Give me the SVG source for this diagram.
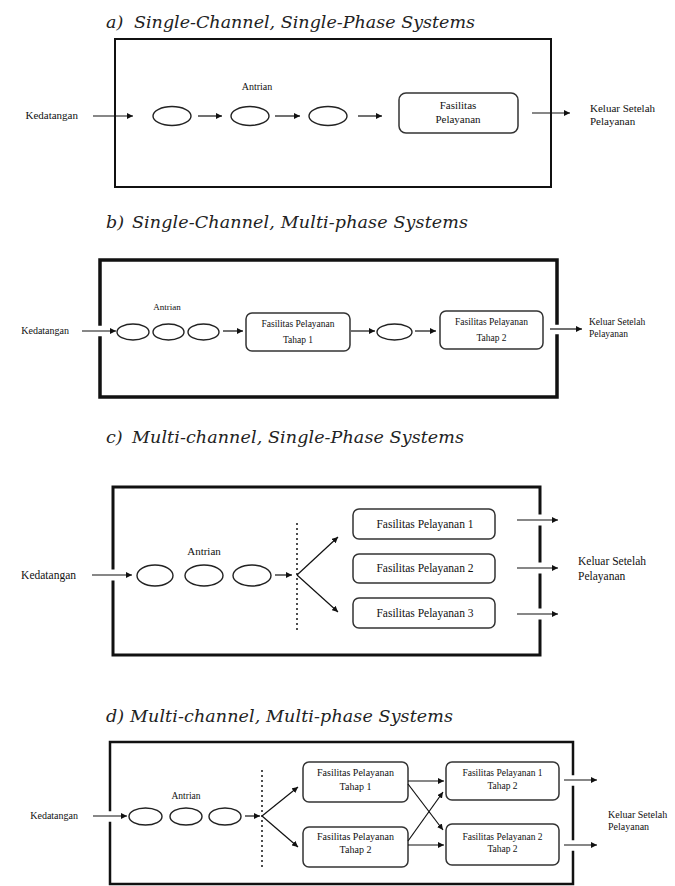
<svg xmlns="http://www.w3.org/2000/svg" width="675" height="886" viewBox="0 0 675 886">
  <style>
    .bg { fill: #ffffff; }
    .title { font-family: "DejaVu Serif", "Liberation Serif", serif; font-style: italic; font-size: 17.5px; fill: #222; }
    .lbl { font-family: "Liberation Serif", "Times New Roman", serif; fill: #111; }
    .frame { fill: none; stroke: #111; stroke-linecap: square; }
    .q { fill: #fff; stroke: #222; stroke-width: 1.4; }
    .fac { fill: #fff; stroke: #333; stroke-width: 1.5; }
    .conn line, .conn path { stroke: #111; stroke-width: 1.2; fill: none; marker-end: url(#ah); }
    .dots { stroke: #222; stroke-width: 1.6; stroke-dasharray: 2 3; fill: none; }
  </style>
  <defs>
    <marker id="ah" viewBox="0 0 8 8" refX="8" refY="4" markerWidth="6" markerHeight="6" markerUnits="userSpaceOnUse" orient="auto">
      <path d="M0,0 L8,4 L0,8 z" fill="#111"/>
    </marker>
  </defs>
  <rect class="bg" width="675" height="886"/>

  <!-- ===== a) single channel, single phase ===== -->
  <g id="panel-a">
    <text class="title" x="106" y="28">a)</text>
    <text class="title" x="134" y="28" textLength="341">Single-Channel, Single-Phase Systems</text>
    <rect class="frame" x="115" y="39" width="436" height="148" stroke-width="2"/>
    <text class="lbl" x="78" y="119" font-size="11" text-anchor="end">Kedatangan</text>
    <text class="lbl" x="257" y="90" font-size="10" text-anchor="middle">Antrian</text>
    <g id="a-q1"><ellipse class="q" cx="172" cy="116" rx="19" ry="9.5"/></g>
    <g id="a-q2"><ellipse class="q" cx="250" cy="116" rx="19" ry="9.5"/></g>
    <g id="a-q3"><ellipse class="q" cx="328" cy="116" rx="19" ry="9.5"/></g>
    <g id="a-fac">
      <rect class="fac" x="399" y="93" width="119" height="40" rx="7"/>
      <text class="lbl" x="458" y="109" font-size="11" text-anchor="middle">Fasilitas</text>
      <text class="lbl" x="458" y="123" font-size="11" text-anchor="middle">Pelayanan</text>
    </g>
    <text class="lbl" x="590" y="112" font-size="11">Keluar Setelah</text>
    <text class="lbl" x="590" y="125" font-size="11">Pelayanan</text>
    <g class="conn" id="a-conn">
      <line x1="93" y1="116" x2="133" y2="116"/>
      <line x1="198" y1="116" x2="222" y2="116"/>
      <line x1="275" y1="116" x2="300" y2="116"/>
      <line x1="358" y1="116" x2="382" y2="116"/>
      <line x1="532" y1="113" x2="570" y2="113"/>
    </g>
  </g>

  <!-- ===== b) single channel, multi phase ===== -->
  <g id="panel-b">
    <text class="title" x="106" y="228">b)</text>
    <text class="title" x="132" y="228" textLength="336">Single-Channel, Multi-phase Systems</text>
    <path class="frame" stroke-width="3.5" d="M100,324 V260 H557 V323 M557,336 V397 H100 V338"/>
    <text class="lbl" x="69" y="334" font-size="10" text-anchor="end">Kedatangan</text>
    <text class="lbl" x="167" y="310" font-size="9" text-anchor="middle">Antrian</text>
    <g id="b-q1"><ellipse class="q" cx="133" cy="332" rx="16" ry="8"/></g>
    <g id="b-q2"><ellipse class="q" cx="168.5" cy="332" rx="15.5" ry="8"/></g>
    <g id="b-q3"><ellipse class="q" cx="203.5" cy="332" rx="15.5" ry="8"/></g>
    <g id="b-fac1">
      <rect class="fac" x="246" y="313" width="104" height="38" rx="6"/>
      <text class="lbl" x="298" y="327" font-size="9.5" text-anchor="middle">Fasilitas Pelayanan</text>
      <text class="lbl" x="298" y="343" font-size="9.5" text-anchor="middle">Tahap 1</text>
    </g>
    <g id="b-q4"><ellipse class="q" cx="394.5" cy="332" rx="17.5" ry="8"/></g>
    <g id="b-fac2">
      <rect class="fac" x="440" y="311" width="103" height="38" rx="6"/>
      <text class="lbl" x="491.5" y="325" font-size="9.5" text-anchor="middle">Fasilitas Pelayanan</text>
      <text class="lbl" x="491.5" y="341" font-size="9.5" text-anchor="middle">Tahap 2</text>
    </g>
    <text class="lbl" x="589" y="325" font-size="9.5">Keluar Setelah</text>
    <text class="lbl" x="589" y="337" font-size="9.5">Pelayanan</text>
    <g class="conn" id="b-conn">
      <line x1="82" y1="331" x2="116" y2="331"/>
      <line x1="223" y1="331" x2="243" y2="331"/>
      <line x1="351" y1="331" x2="375" y2="331"/>
      <line x1="415" y1="331" x2="436" y2="331"/>
      <line x1="550" y1="329" x2="582" y2="329"/>
    </g>
  </g>

  <!-- ===== c) multi channel, single phase ===== -->
  <g id="panel-c">
    <text class="title" x="106" y="443">c)</text>
    <text class="title" x="132" y="443" textLength="332">Multi-channel, Single-Phase Systems</text>
    <path class="frame" stroke-width="3" d="M113,568 V487 H540 V513 M540,527 V561 M540,575 V607 M540,621 V655 H113 V582"/>
    <text class="lbl" x="76" y="579" font-size="11.5" text-anchor="end">Kedatangan</text>
    <text class="lbl" x="204" y="555" font-size="11" text-anchor="middle">Antrian</text>
    <g id="c-q1"><ellipse class="q" cx="155" cy="575.5" rx="18" ry="10.5"/></g>
    <g id="c-q2"><ellipse class="q" cx="204" cy="575.5" rx="19" ry="10.5"/></g>
    <g id="c-q3"><ellipse class="q" cx="252" cy="575.5" rx="19" ry="10.5"/></g>
    <line class="dots" x1="297" y1="523" x2="297" y2="633"/>
    <g id="c-fac1">
      <rect class="fac" x="353" y="509" width="142" height="30" rx="6"/>
      <text class="lbl" x="425" y="528" font-size="11.5" text-anchor="middle">Fasilitas Pelayanan 1</text>
    </g>
    <g id="c-fac2">
      <rect class="fac" x="353" y="554" width="142" height="29" rx="6"/>
      <text class="lbl" x="425" y="572" font-size="11.5" text-anchor="middle">Fasilitas Pelayanan 2</text>
    </g>
    <g id="c-fac3">
      <rect class="fac" x="353" y="598" width="142" height="30" rx="6"/>
      <text class="lbl" x="425" y="617" font-size="11.5" text-anchor="middle">Fasilitas Pelayanan 3</text>
    </g>
    <text class="lbl" x="578" y="565" font-size="11.5">Keluar Setelah</text>
    <text class="lbl" x="578" y="580" font-size="11.5">Pelayanan</text>
    <g class="conn" id="c-conn">
      <line x1="92" y1="575" x2="132" y2="575"/>
      <line x1="275" y1="575" x2="292" y2="575"/>
      <line x1="297" y1="575" x2="338" y2="537"/>
      <line x1="297" y1="575" x2="338" y2="612"/>
      <line x1="517" y1="520" x2="558" y2="520"/>
      <line x1="517" y1="568" x2="558" y2="568"/>
      <line x1="517" y1="614" x2="558" y2="614"/>
    </g>
  </g>

  <!-- ===== d) multi channel, multi phase ===== -->
  <g id="panel-d">
    <text class="title" x="106" y="722">d)</text>
    <text class="title" x="130" y="722" textLength="323">Multi-channel, Multi-phase Systems</text>
    <path class="frame" stroke-width="2.5" d="M110,810 V742 H573 V774 M573,787 V839 M573,852 V884 H110 V823"/>
    <text class="lbl" x="78" y="819" font-size="10" text-anchor="end">Kedatangan</text>
    <text class="lbl" x="186" y="799" font-size="9.5" text-anchor="middle">Antrian</text>
    <g id="d-q1"><ellipse class="q" cx="145.5" cy="816.5" rx="16.5" ry="8.5"/></g>
    <g id="d-q2"><ellipse class="q" cx="186" cy="816.5" rx="16" ry="8.5"/></g>
    <g id="d-q3"><ellipse class="q" cx="225" cy="816.5" rx="16" ry="8.5"/></g>
    <line class="dots" x1="262" y1="770" x2="262" y2="867"/>
    <g id="d-fac11">
      <rect class="fac" x="303" y="762" width="105" height="40" rx="6"/>
      <text class="lbl" x="355.5" y="776" font-size="10" text-anchor="middle">Fasilitas Pelayanan</text>
      <text class="lbl" x="355.5" y="790" font-size="10" text-anchor="middle">Tahap 1</text>
    </g>
    <g id="d-fac21">
      <rect class="fac" x="303" y="827" width="105" height="40" rx="6"/>
      <text class="lbl" x="355.5" y="840" font-size="10" text-anchor="middle">Fasilitas Pelayanan</text>
      <text class="lbl" x="355.5" y="853" font-size="10" text-anchor="middle">Tahap 2</text>
    </g>
    <g id="d-fac12">
      <rect class="fac" x="446" y="762" width="113" height="38" rx="6"/>
      <text class="lbl" x="502.5" y="776" font-size="9.5" text-anchor="middle">Fasilitas Pelayanan 1</text>
      <text class="lbl" x="502.5" y="789" font-size="9.5" text-anchor="middle">Tahap 2</text>
    </g>
    <g id="d-fac22">
      <rect class="fac" x="446" y="824" width="113" height="41" rx="6"/>
      <text class="lbl" x="502.5" y="840" font-size="9.5" text-anchor="middle">Fasilitas Pelayanan 2</text>
      <text class="lbl" x="502.5" y="852" font-size="9.5" text-anchor="middle">Tahap 2</text>
    </g>
    <text class="lbl" x="608" y="818" font-size="10">Keluar Setelah</text>
    <text class="lbl" x="608" y="830" font-size="10">Pelayanan</text>
    <g class="conn" id="d-conn">
      <line x1="93" y1="816" x2="127" y2="816"/>
      <line x1="245" y1="816" x2="260" y2="816"/>
      <line x1="262" y1="816" x2="298" y2="787"/>
      <line x1="262" y1="816" x2="298" y2="847"/>
      <line x1="408" y1="781" x2="444" y2="781"/>
      <line x1="408" y1="784" x2="443" y2="830"/>
      <line x1="408" y1="845" x2="444" y2="845"/>
      <line x1="408" y1="841" x2="443" y2="792"/>
      <line x1="564" y1="780" x2="597" y2="780"/>
      <line x1="564" y1="845" x2="597" y2="845"/>
    </g>
  </g>
</svg>
